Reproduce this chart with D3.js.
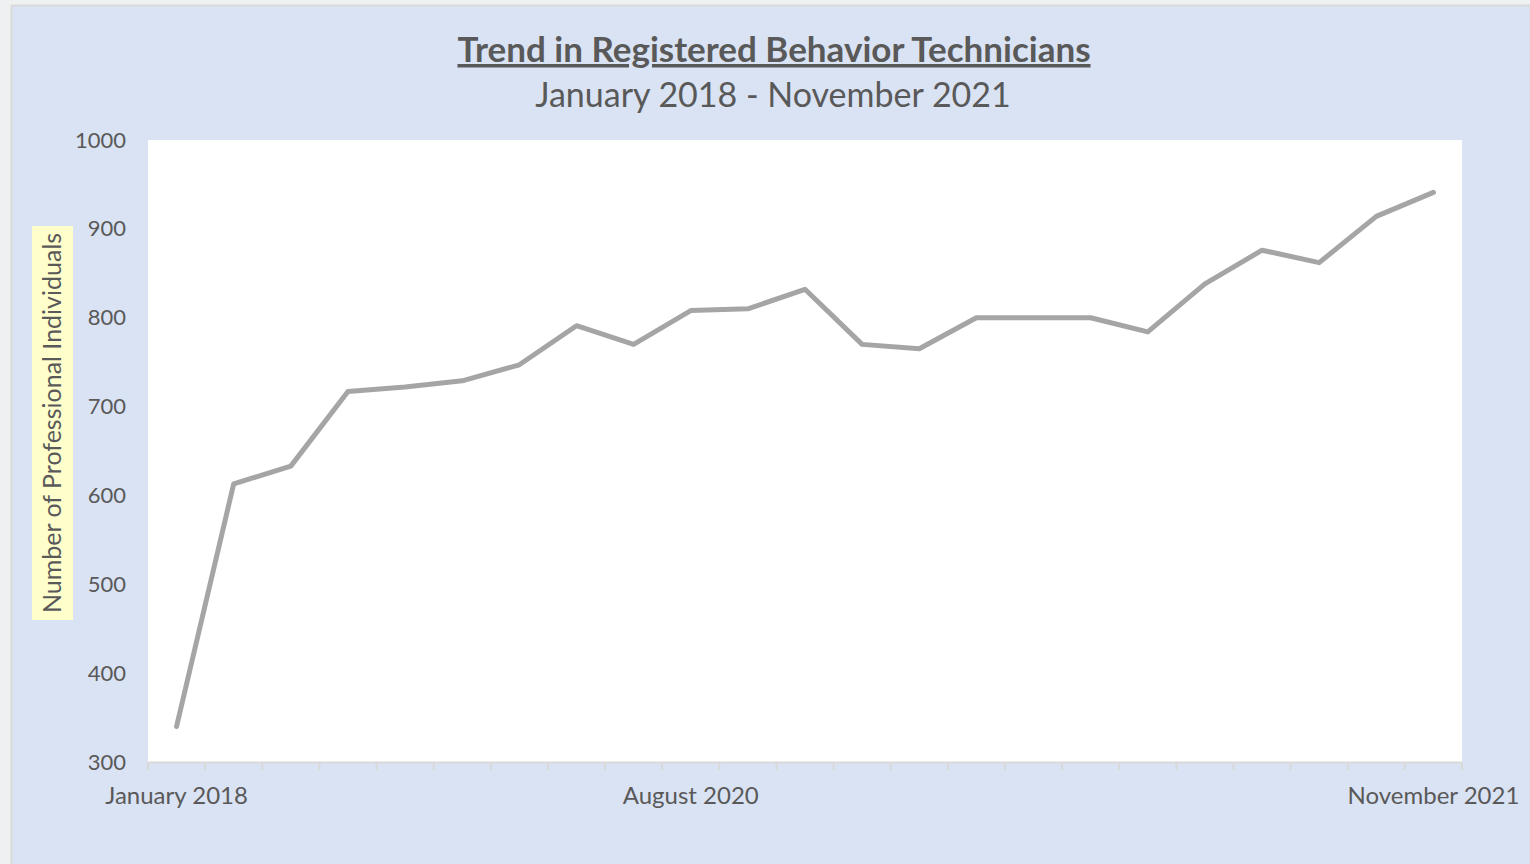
<!DOCTYPE html>
<html>
<head>
<meta charset="utf-8">
<script src="https://cdn.jsdelivr.net/npm/d3@7"></script>
<style>
  html, body { margin: 0; padding: 0; background: #eef0f1; }
  svg { display: block; }
  text { font-family: Lato, "Open Sans", sans-serif; fill: #595959; }
</style>
</head>
<body>
<svg id="chart" width="1530" height="864"></svg>
<script>
// data
const categories = d3.range(23).map(i => "P" + (i + 1));
const tickLabels = ["January 2018", "", "", "", "", "", "", "", "", "August 2020", "", "", "", "", "", "", "", "", "", "", "", "", "November 2021"];
const values = [340, 613, 633, 717, 722, 729, 747, 791, 770, 808, 810, 832, 770, 765, 800, 800, 800, 784, 838, 876, 862, 914, 941];
const yTicks = [300, 400, 500, 600, 700, 800, 900, 1000];

const svg = d3.select("#chart");
const W = 1530, H = 864;
const plot = { left: 148, right: 1462, top: 140, bottom: 762 };

// outer chart box
svg.append("rect")
  .attr("x", 11.5).attr("y", 5.5)
  .attr("width", W - 11).attr("height", H)
  .attr("fill", "#dae3f3")
  .attr("stroke", "#d9d9d9").attr("stroke-width", 2);

// plot area
svg.append("rect")
  .attr("x", plot.left).attr("y", plot.top)
  .attr("width", plot.right - plot.left).attr("height", plot.bottom - plot.top)
  .attr("fill", "#ffffff");

const x = d3.scaleBand().domain(categories).range([plot.left, plot.right]);
const y = d3.scaleLinear().domain([300, 1000]).range([plot.bottom, plot.top]);

// y axis labels
const yAxis = svg.append("g")
  .attr("transform", `translate(${plot.left},0)`)
  .call(d3.axisLeft(y).tickValues(yTicks).tickSize(0).tickPadding(22).tickFormat(d3.format("d")));
yAxis.select(".domain").remove();
yAxis.selectAll("text").style("font-size", "22px").attr("fill", "#595959");

// x axis with tick marks between categories
const xAxis = svg.append("g")
  .attr("transform", `translate(0,${plot.bottom})`)
  .call(d3.axisBottom(x).tickSize(0).tickPadding(25).tickFormat((d, i) => tickLabels[i]));
xAxis.select(".domain").attr("stroke", "#d9d9d9").attr("stroke-width", 2);
xAxis.selectAll("text").style("font-size", "24px").attr("fill", "#595959");

const bounds = categories.map(c => x(c)).concat([plot.right]);
xAxis.selectAll("line.sep")
  .data(bounds)
  .join("line")
  .attr("class", "sep")
  .attr("x1", d => d).attr("x2", d => d)
  .attr("y1", 0).attr("y2", 8)
  .attr("stroke", "#d9d9d9").attr("stroke-width", 2);

// line
const line = d3.line()
  .x((d, i) => x(categories[i]) + x.bandwidth() / 2)
  .y(d => y(d));

svg.append("path")
  .datum(values)
  .attr("d", line)
  .attr("fill", "none")
  .attr("stroke", "#a5a5a5")
  .attr("stroke-width", 5)
  .attr("stroke-linejoin", "round")
  .attr("stroke-linecap", "round");

// title
svg.append("text")
  .attr("x", 774).attr("y", 62)
  .attr("text-anchor", "middle")
  .style("font-size", "35px").style("font-weight", "bold")
  .style("text-decoration", "underline")
  .text("Trend in Registered Behavior Technicians");

svg.append("text")
  .attr("x", 773).attr("y", 107)
  .attr("text-anchor", "middle")
  .style("font-size", "34px")
  .text("January 2018 - November 2021");

// y axis title with yellow highlight
const yt = svg.append("g").attr("transform", "translate(52,423) rotate(-90)");
yt.append("rect")
  .attr("x", -197).attr("y", -20)
  .attr("width", 394).attr("height", 41)
  .attr("fill", "#ffffcc");
yt.append("text")
  .attr("text-anchor", "middle")
  .attr("dy", "0.35em")
  .style("font-size", "25px")
  .text("Number of Professional Individuals");
</script>
</body>
</html>
